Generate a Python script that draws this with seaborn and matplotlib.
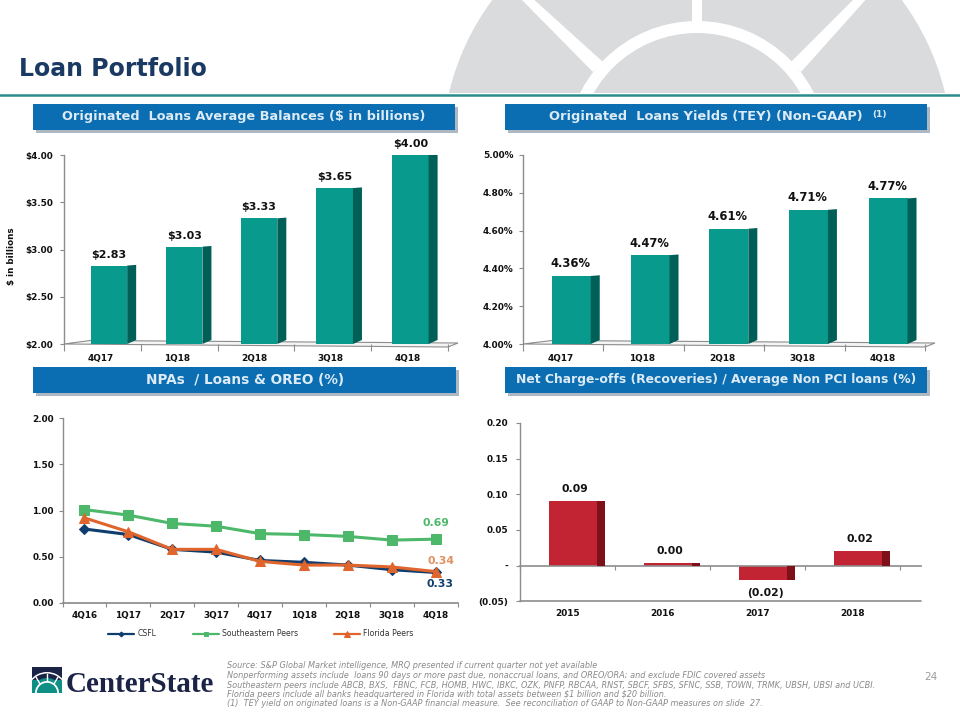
import numpy as np
import pandas as pd
import matplotlib
matplotlib.use('Agg')
import matplotlib.pyplot as plt
import seaborn as sns
from matplotlib.patches import Polygon, Rectangle, Circle, Wedge
from matplotlib.transforms import ScaledTranslation

# ── Data ─────────────────────────────────────────────────────
quarters = ['4Q17', '1Q18', '2Q18', '3Q18', '4Q18']
balances = [2.83, 3.03, 3.33, 3.65, 4.00]
balance_ticks = [2.0, 2.5, 3.0, 3.5, 4.0]
yields = [4.36, 4.47, 4.61, 4.71, 4.77]
yield_ticks = [4.0, 4.2, 4.4, 4.6, 4.8, 5.0]

npa_quarters = ['4Q16', '1Q17', '2Q17', '3Q17', '4Q17', '1Q18', '2Q18', '3Q18', '4Q18']
csfl = [0.80, 0.74, 0.58, 0.55, 0.46, 0.44, 0.41, 0.36, 0.33]
southeastern = [1.01, 0.95, 0.86, 0.83, 0.75, 0.74, 0.72, 0.68, 0.69]
florida = [0.92, 0.77, 0.58, 0.58, 0.45, 0.41, 0.41, 0.39, 0.34]
npa_ticks = [0.0, 0.5, 1.0, 1.5, 2.0]

years = ['2015', '2016', '2017', '2018']
charge_offs = [0.09, 0.004, -0.02, 0.02]
charge_ticks = [-0.05, 0.0, 0.05, 0.10, 0.15, 0.20]
charge_tick_labels = ['(0.05)', '-', '0.05', '0.10', '0.15', '0.20']

footnotes = [
    'Source: S&P Global Market intelligence, MRQ presented if current quarter not yet available',
    'Nonperforming assets include  loans 90 days or more past due, nonaccrual loans, and OREO/ORA; and exclude FDIC covered assets',
    'Southeastern peers include ABCB, BXS,  FBNC, FCB, HOMB, HWC, IBKC, OZK, PNFP, RBCAA, RNST, SBCF, SFBS, SFNC, SSB, TOWN, TRMK, UBSH, UBSI and UCBI.',
    'Florida peers include all banks headquartered in Florida with total assets between $1 billion and $20 billion.',
    '(1)  TEY yield on originated loans is a Non-GAAP financial measure.  See reconciliation of GAAP to Non-GAAP measures on slide  27.',
]

# ── Style ────────────────────────────────────────────────────
TEAL, TEAL_DARK = '#089A8C', '#005F57'
RED, RED_DARK = '#C32433', '#7E1019'
NAVY, GREEN, ORANGE = '#0F3D6E', '#4DB86A', '#E0652C'
GRID = '#8C8C8C'
INK = '#111111'

sns.set_theme(style='white')
plt.rcParams['font.family'] = ['DejaVu Sans']
plt.rcParams['axes.unicode_minus'] = False

W, H = 960, 720
fig = plt.figure(figsize=(W / 100, H / 100), dpi=100, facecolor='white')


def px_axes(x0, y0, x1, y1):
    ax = fig.add_axes([x0 / W, 1 - y1 / H, (x1 - x0) / W, (y1 - y0) / H])
    ax.patch.set_visible(False)
    return ax


# ── Slide background (pixel coordinates) ─────────────────────
bg = fig.add_axes([0, 0, 1, 1], zorder=-5)
bg.set_xlim(0, W)
bg.set_ylim(H, 0)
bg.axis('off')

cx, cy = 697, 152
LOGO_GREY = '#DADBDD'
bg.add_patch(Circle((cx, cy), 255, color=LOGO_GREY, lw=0))
bg.add_patch(Circle((cx, cy), 131, color='white', lw=0))
bg.add_patch(Circle((cx, cy), 119, color=LOGO_GREY, lw=0))
bg.add_patch(Rectangle((cx - 5, -5), 10, 28, color='white', lw=0))
bg.add_patch(Polygon([(518, -4), (530, -4), (603, 62), (593, 72)], color='white', lw=0))
bg.add_patch(Polygon([(857, -4), (869, -4), (801, 72), (791, 62)], color='white', lw=0))
bg.add_patch(Rectangle((0, 93), W, H - 93, color='white', lw=0))
bg.plot([0, W], [94.5, 94.5], color='#2A8C8C', lw=1.8)
bg.text(19, 68.5, 'Loan Portfolio', color='#1B3A63', fontsize=17, fontweight='bold',
        va='center', ha='left')


def header(x0, y0, x1, y1, label, size):
    bg.add_patch(Rectangle((x0 + 3, y0 + 3), x1 - x0, y1 - y0, color='#AEB8C2', lw=0))
    bg.add_patch(Rectangle((x0, y0), x1 - x0, y1 - y0, color='#0B6DB2', lw=0))
    return bg.text((x0 + x1) / 2, (y0 + y1) / 2 - 0.5, label, color='#DCEBF5', fontsize=size,
                   fontweight='bold', ha='center', va='center', parse_math=False)


header(33, 104, 455, 130, 'Originated  Loans Average Balances ($ in billions)', 9.3)
bg.text(706, 116.5, 'Originated  Loans Yields (TEY) (Non-GAAP)', color='#DCEBF5', fontsize=9.4,
        fontweight='bold', ha='center', va='center', zorder=4)
header(505, 104, 927, 130, '', 9.4)
bg.text(872, 115, '(1)', color='#DCEBF5', fontsize=6.5, fontweight='bold', ha='left', va='center', zorder=4)
header(33, 367, 456, 393, 'NPAs  / Loans & OREO (%)', 9.8)
header(505, 367, 927, 393, 'Net Charge-offs (Recoveries) / Average Non PCI loans (%)', 8.9)

# floors of the two 3D bar charts
for pts in ([(64, 344), (90, 340.5), (458, 343), (448, 347)],
            [(523, 344), (552, 340.5), (935, 343), (925, 347)]):
    bg.add_patch(Polygon(pts, closed=True, facecolor='#F4F4F4', edgecolor=GRID, lw=0.8))


# ── Helpers ──────────────────────────────────────────────────
def style_axes(ax, ticks, fmt=None, pad=4):
    sns.despine(ax=ax, top=True, right=True, bottom=True)
    ax.spines['left'].set_color(GRID)
    ax.spines['left'].set_linewidth(1)
    ax.set_yticks(ticks)
    if fmt:
        ax.set_yticklabels([fmt.format(t) for t in ticks])
    ax.tick_params(axis='y', left=True, length=3, width=0.8, color=GRID, pad=pad,
                   labelsize=6.4, labelcolor=INK)
    for lab in ax.get_yticklabels():
        lab.set_fontweight('bold')
    ax.set_xlabel('')
    ax.set_ylabel('')


def style_cats(ax, n, pad=4, dx_px=0, tick_len=5):
    ax.set_xlim(-0.5, n - 0.5)
    ax.set_xticks(np.arange(-0.5, n), minor=True)
    ax.tick_params(axis='x', which='major', bottom=False, length=0, pad=pad, labelsize=6.4, labelcolor=INK)
    ax.tick_params(axis='x', which='minor', bottom=True, length=tick_len, width=0.8, color=GRID)
    for lab in ax.get_xticklabels():
        lab.set_fontweight('bold')
        lab.set_transform(lab.get_transform() + ScaledTranslation(dx_px / 100, 0, fig.dpi_scale_trans))


def depth(ax, bars, dark, dx_px, top_px, bottom_px, shifts=None):
    # fake 3D: shift each bar, then add a darker side face measured in pixels
    bbox = ax.get_window_extent()
    xl, yl = ax.get_xlim(), ax.get_ylim()
    ux = (xl[1] - xl[0]) / bbox.width
    uy = (yl[1] - yl[0]) / bbox.height
    for i, bar in enumerate(bars):
        bar.set_linewidth(0)
        if shifts is not None:
            bar.set_x(bar.get_x() + shifts[i])
        x1 = bar.get_x() + bar.get_width()
        lo = max(min(bar.get_y(), bar.get_y() + bar.get_height()), yl[0])
        hi = max(bar.get_y(), bar.get_y() + bar.get_height())
        ax.add_patch(Polygon([(x1, lo), (x1 + dx_px * ux, lo + bottom_px * uy),
                              (x1 + dx_px * ux, hi + top_px * uy), (x1, hi)],
                             closed=True, facecolor=dark, edgecolor='none', zorder=3))


def value_labels(ax, bars, labels, offset_px, size, dx_px):
    for bar, label, off, dx in zip(bars, labels, offset_px, dx_px):
        top = bar.get_y() + bar.get_height()
        ax.annotate(label, (bar.get_x() + bar.get_width() / 2, top), xytext=(dx * 0.72, off * 0.72),
                    textcoords='offset points', ha='center', va='center', fontsize=size,
                    fontweight='bold', color=INK, annotation_clip=False)


# ── Originated balances ──────────────────────────────────────
ax1 = px_axes(64, 155, 448, 344)
sns.barplot(x=quarters, y=balances, color=TEAL, saturation=1, width=0.475, ax=ax1, zorder=2)
ax1.set_ylim(2, 4)
style_axes(ax1, balance_ticks, '${:.2f}', pad=4.7)
style_cats(ax1, len(quarters), pad=7.5, dx_px=-2)
bars1 = list(ax1.patches)
depth(ax1, bars1, TEAL_DARK, 9, 0.7, 4, shifts=[0.085, 0.065, 0.04, 0.025, 0.01])
value_labels(ax1, bars1, [f'${v:.2f}' for v in balances], [11] * 5, 8, [0] * 5)
ax1.set_ylabel('$ in billions', fontsize=6.3, fontweight='bold', color=INK)
ax1.yaxis.set_label_coords(-0.125, 0.466)

# ── Originated yields ────────────────────────────────────────
ax2 = px_axes(523, 155, 925, 344)
sns.barplot(x=quarters, y=yields, color=TEAL, saturation=1, width=0.485, ax=ax2, zorder=2)
ax2.set_ylim(4, 5)
style_axes(ax2, yield_ticks, '{:.2f}%', pad=4)
style_cats(ax2, len(quarters), pad=7.5, dx_px=-2)
bars2 = list(ax2.patches)
depth(ax2, bars2, TEAL_DARK, 9, 0.7, 4, shifts=[0.1, 0.08, 0.06, 0.05, 0.04])
value_labels(ax2, bars2, [f'{v:.2f}%' for v in yields], [12] * 5, 8.3, [-1] * 5)

# ── NPAs line chart ──────────────────────────────────────────
ax3 = px_axes(62.5, 418, 457.5, 603)
series = [('CSFL', csfl, NAVY, 'D', 5),
          ('Southeastern Peers', southeastern, GREEN, 's', 7),
          ('Florida Peers', florida, ORANGE, '^', 7.5)]
for name, values, color, marker, size in series:
    frame = pd.DataFrame({'quarter': npa_quarters, 'value': values})
    sns.lineplot(data=frame, x='quarter', y='value', sort=False, color=color, lw=2.2, marker=marker,
                 markersize=size, markeredgecolor=color, label=name, ax=ax3)
ax3.set_ylim(0, 2)
style_axes(ax3, npa_ticks, '{:.2f}', pad=3.3)
style_cats(ax3, len(npa_quarters), pad=6, tick_len=3)
ax3.spines['bottom'].set_visible(True)
ax3.spines['bottom'].set_color(GRID)
ax3.annotate('0.69', (8, southeastern[-1]), xytext=(0, 11.5), textcoords='offset points', ha='center',
             va='center', fontsize=7.8, fontweight='bold', color=GREEN)
ax3.annotate('0.34', (8, florida[-1]), xytext=(3.6, 7.5), textcoords='offset points', ha='center',
             va='center', fontsize=7.8, fontweight='bold', color='#E0915F')
ax3.annotate('0.33', (8, csfl[-1]), xytext=(3.2, -8.5), textcoords='offset points', ha='center',
             va='center', fontsize=7.8, fontweight='bold', color=NAVY)
leg = ax3.legend(loc='center', bbox_to_anchor=(261 / W, 1 - 634 / H), bbox_transform=fig.transFigure,
                 ncol=3, frameon=False, fontsize=5.6, handlelength=3.33, handletextpad=0.38,
                 columnspacing=4.7, markerscale=0.5, borderpad=0)
for t in leg.get_texts():
    t.set_color('#333333')
for h in leg.get_lines():
    h.set_linewidth(1.6)

# ── Net charge-offs ──────────────────────────────────────────
ax4 = px_axes(520, 423, 920.7, 601.3)
sns.barplot(x=years, y=charge_offs, color=RED, saturation=1, width=0.5, ax=ax4, zorder=2)
ax4.set_ylim(-0.05, 0.20)
style_axes(ax4, charge_ticks, pad=5.4)
ax4.set_yticklabels(charge_tick_labels)
for lab in ax4.get_yticklabels():
    lab.set_fontweight('bold')
ax4.set_xticks(np.arange(-0.5, 4), minor=True)
ax4.set_xlim(-0.5, 3.72)
ax4.spines['bottom'].set_visible(True)
ax4.spines['bottom'].set_position(('data', 0))
ax4.spines['bottom'].set_color(GRID)
ax4.spines['bottom'].set_linewidth(1.2)
ax4.axhline(-0.05, color=GRID, lw=1.2, clip_on=False)
ax4.tick_params(axis='x', which='major', bottom=False, length=0, pad=31, labelsize=6.4, labelcolor=INK)
ax4.tick_params(axis='x', which='minor', bottom=True, length=3, width=0.8, color=GRID)
for lab in ax4.get_xticklabels():
    lab.set_fontweight('bold')
bars4 = list(ax4.patches)
depth(ax4, bars4, RED_DARK, 8, 0, 0, shifts=[0.06] * 4)
charge_labels = [f'({abs(v):.2f})' if v < 0 else f'{v:.2f}' for v in charge_offs]
value_labels(ax4, bars4, charge_labels, [12, 12, -12.7, 12], 7.8, [2, 1.5, 2, 2])

# ── Footer ───────────────────────────────────────────────────
for y, line in zip([665.5, 675.5, 685, 694.5, 704], footnotes):
    bg.text(227, y, line, color='#8A8A8A', fontsize=5.9, fontstyle='italic', ha='left', va='center',
            parse_math=False)
bg.text(931, 677, '24', color='#9A9A9A', fontsize=7.5, ha='center', va='center')

# logo mark, upper half wedges because the y axis runs downwards here
LOGO_NAVY, LOGO_TEAL = '#1B2447', '#0E8F86'
bg.add_patch(Rectangle((32, 667), 30, 26, color=LOGO_NAVY, lw=0))
bg.add_patch(Wedge((47, 693), 15, 180, 360, color=LOGO_TEAL, lw=0))
bg.add_patch(Polygon([(32, 693), (32, 680), (62, 680), (62, 693)], color=LOGO_TEAL, lw=0))
bg.add_patch(Wedge((47, 693), 12, 180, 360, width=1.8, color='white', lw=0))
bg.add_patch(Wedge((47, 693), 21, 215, 325, width=1.5, color='white', lw=0))
bg.plot([47, 47], [674, 681], color='white', lw=1, zorder=1.5)
bg.plot([36, 40], [677, 684], color='white', lw=1, zorder=1.5)
bg.plot([58, 54], [677, 684], color='white', lw=1, zorder=1.5)
bg.text(66, 685, 'CenterState', family='Liberation Serif', fontweight='bold', fontsize=21,
        color=LOGO_NAVY, ha='left', va='center')

fig.savefig('out.png', dpi=100)
plt.close(fig)
